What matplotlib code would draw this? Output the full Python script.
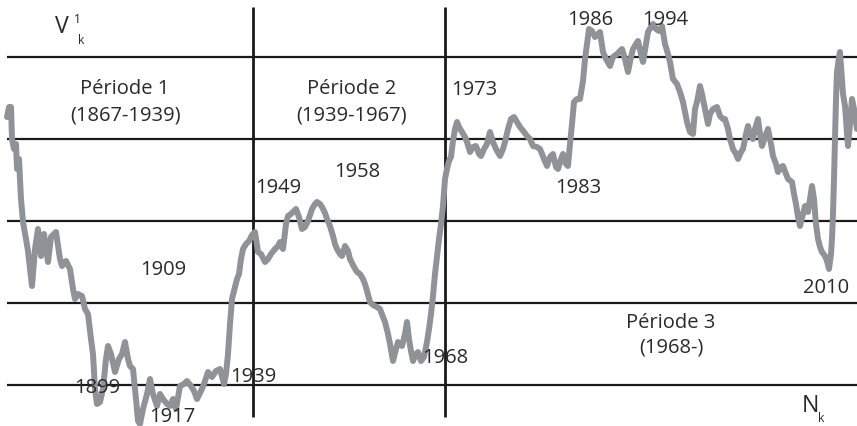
import matplotlib
matplotlib.use("Agg")
import matplotlib.pyplot as plt
from matplotlib import font_manager

# -----------------------------
# Données (N_k, V1_k)
# -----------------------------
n_k = [0, 2, 3, 4, 5, 7, 9, 10, 12, 14, 16, 19, 21, 23, 25, 28, 31, 34, 37, 41,
       44, 49, 53, 55, 59, 63, 66, 68, 71, 75, 78, 81, 84, 86, 88, 90, 93, 96, 99, 101,
       104, 108, 112, 115, 118, 121, 123, 126, 129, 131, 133, 136, 140, 143, 146, 150, 153, 156, 160, 163,
       166, 169, 173, 177, 180, 184, 187, 190, 194, 197, 201, 205, 209, 213, 217, 219, 221, 223, 225, 227,
       230, 232, 234, 236, 239, 242, 245, 248, 251, 254, 258, 261, 264, 268, 271, 273, 276, 279, 281, 284,
       286, 289, 292, 295, 298, 301, 305, 308, 310, 313, 315, 318, 320, 323, 326, 328, 330, 333, 335, 338,
       341, 343, 347, 350, 353, 356, 358, 360, 363, 366, 370, 373, 376, 378, 381, 383, 386, 389, 391, 395,
       398, 400, 402, 404, 406, 409, 411, 414, 417, 420, 422, 424, 426, 428, 430, 432, 434, 436, 438, 440,
       442, 444, 446, 448, 450, 452, 455, 458, 460, 463, 466, 469, 472, 474, 477, 480, 483, 486, 489, 493,
       496, 498, 501, 504, 507, 510, 513, 517, 520, 523, 526, 530, 533, 537, 540, 543, 546, 549, 551, 554,
       556, 559, 561, 563, 565, 567, 570, 573, 576, 578, 580, 582, 585, 588, 591, 593, 596, 599, 603, 606,
       610, 613, 615, 618, 621, 624, 626, 629, 631, 634, 636, 639, 641, 644, 646, 649, 652, 655, 658, 661,
       663, 666, 670, 673, 676, 680, 683, 686, 688, 690, 693, 695, 698, 701, 703, 706, 710, 713, 716, 718,
       721, 723, 726, 729, 731, 734, 736, 739, 741, 743, 746, 748, 751, 753, 755, 758, 761, 764, 766, 769,
       771, 774, 776, 779, 781, 785, 787, 789, 791, 793, 796, 798, 801, 803, 805, 807, 809, 811, 813, 815,
       818, 820, 822, 824, 825, 826, 827, 828, 829, 830, 832, 833, 835, 836, 838, 839, 840, 841, 843, 845,
       847, 850]

v_k = [104, 114, 110, 114, 82, 72, 77, 52, 62, 22, -1, -18, -30, -48, -65, -28, -8, -35, -13, -41,
       -16, -11, -38, -45, -40, -48, -68, -78, -73, -75, -88, -93, -118, -133, -168, -183, -181, -168, -138, -125,
       -133, -151, -138, -133, -121, -138, -145, -148, -178, -200, -203, -188, -173, -158, -173, -185, -173, -178, -183, -185,
       -178, -188, -165, -163, -160, -165, -170, -178, -170, -163, -151, -156, -150, -148, -163, -153, -133, -103, -78, -70,
       -58, -53, -38, -28, -23, -20, -14, -11, -31, -33, -41, -38, -33, -28, -25, -21, -28, -3, 5, 7,
       9, 12, 4, -8, -6, 0, 12, 17, 19, 17, 14, 8, 2, -5, -15, -23, -28, -33, -35, -25,
       -30, -38, -46, -51, -53, -58, -63, -70, -81, -84, -86, -88, -96, -101, -113, -123, -140, -128, -121, -125,
       -113, -101, -118, -130, -140, -133, -131, -140, -136, -121, -108, -93, -75, -53, -35, -18, -3, 15, 42, 52,
       60, 64, 80, 92, 99, 94, 89, 84, 79, 69, 74, 75, 67, 65, 72, 77, 89, 79, 72, 65,
       72, 79, 92, 102, 104, 99, 94, 89, 85, 82, 75, 74, 72, 62, 55, 64, 67, 54, 52, 62,
       67, 57, 55, 77, 97, 119, 122, 122, 140, 162, 177, 192, 190, 184, 187, 189, 169, 162, 155, 164,
       167, 170, 172, 162, 149, 164, 172, 177, 180, 167, 159, 177, 189, 194, 197, 192, 190, 195, 177, 167,
       159, 142, 137, 129, 119, 99, 89, 87, 112, 119, 135, 127, 112, 97, 107, 112, 114, 105, 102, 102,
       92, 82, 72, 67, 62, 69, 72, 87, 95, 87, 82, 92, 102, 87, 75, 84, 92, 77, 65, 57,
       49, 54, 55, 47, 42, 39, 27, 17, 4, -5, 7, 15, 9, 22, 35, 22, -3, -18, -26, -31,
       -35, -40, -48, -33, -18, 7, 42, 82, 122, 149, 164, 169, 142, 127, 115, 102, 87, 75, 97, 122,
       112, 92]

grid_levels = [164, 82, 0, -82, -164]
period_bounds = [246, 438]

period_labels = [("Période 1", 118, 128), ("(1867-1939)", 119, 102),
                 ("Période 2", 345, 128), ("(1939-1967)", 345, 102),
                 ("Période 3", 664, -106), ("(1968-)", 664, -131)]
year_labels = ["1899", "1909", "1917", "1939", "1949", "1958", "1968",
               "1973", "1983", "1986", "1994", "2010"]
year_pos = [(90, -171), (156, -53), (165, -200), (246, -160), (271, 29), (350, 45),
            (438, -141), (467, 127), (571, 29), (583, 197), (658, 197), (819, -71)]

# -----------------------------
# Police
# -----------------------------
installed = {f.name for f in font_manager.fontManager.ttflist}
if "Liberation Sans Narrow" in installed:
    FAMILY, FS = "Liberation Sans Narrow", 17
else:
    FAMILY, FS = "Open Sans", 14.5
TXT = "#2a2a2a"


def main():
    fig = plt.figure(figsize=(8.57, 4.27), dpi=100)
    ax = fig.add_axes([0, 0, 1, 1])
    ax.set_xlim(-7, 850)
    ax.set_ylim(-205, 222)
    ax.axis("off")

    # quadrillage
    ax.hlines(grid_levels, 0, 850, color="#1a1a1a", linewidth=1.6, zorder=1)
    ax.vlines(period_bounds, -196, 214, color="#1a1a1a", linewidth=2.0, zorder=1)

    # série
    ax.plot(n_k, v_k, color="#8f9398", linewidth=4.3, solid_joinstyle="round",
            solid_capstyle="round", zorder=2)

    for txt, x, y in period_labels:
        ax.text(x, y, txt, ha="center", va="baseline", fontsize=FS,
                family=FAMILY, color=TXT, zorder=3)
    for txt, (x, y) in zip(year_labels, year_pos):
        ax.text(x, y, txt, ha="center", va="baseline", fontsize=FS,
                family=FAMILY, color=TXT, zorder=3)

    # axes V1k et Nk
    ax.text(48, 189, "V", ha="left", va="baseline", fontsize=FS * 1.15, family=FAMILY, color=TXT)
    ax.text(67, 199, "1", ha="left", va="baseline", fontsize=FS * 0.6, family=FAMILY, color=TXT)
    ax.text(71, 178, "k", ha="left", va="baseline", fontsize=FS * 0.6, family=FAMILY, color=TXT)
    ax.text(795, -190, "N", ha="left", va="baseline", fontsize=FS * 1.15, family=FAMILY, color=TXT)
    ax.text(811, -200, "k", ha="left", va="baseline", fontsize=FS * 0.6, family=FAMILY, color=TXT)

    fig.savefig("out.png", dpi=100)


if __name__ == "__main__":
    main()
